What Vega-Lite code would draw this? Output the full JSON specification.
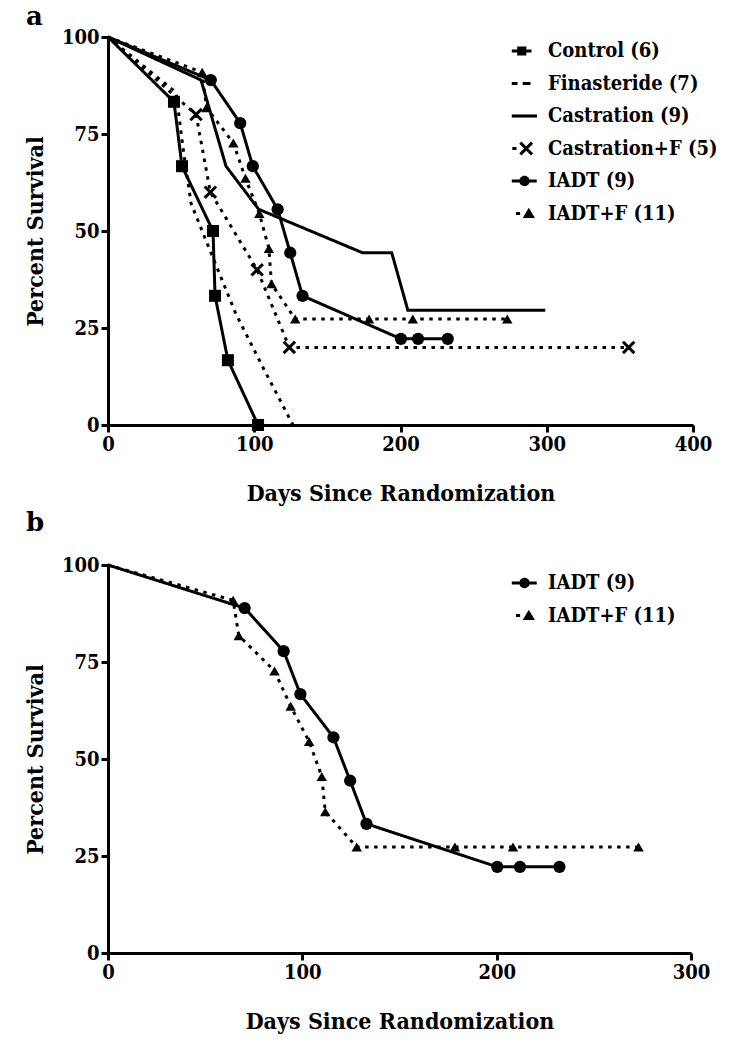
{
  "$schema": "https://vega.github.io/schema/vega-lite/v6.json",
  "background": "white",
  "padding": {"left": 24, "top": 4, "right": 5, "bottom": 5},
  "spacing": 5,
  "resolve": {"scale": {"shape": "independent", "strokeDash": "independent"}, "legend": {"shape": "independent", "strokeDash": "independent"}},
  "config": {
    "view": {"stroke": null},
    "axis": {
      "grid": false,
      "domainColor": "black", "domainWidth": 3,
      "tickColor": "black", "tickWidth": 3, "tickSize": 7,
      "labelFont": "DejaVu Serif Condensed", "labelFontSize": 20, "labelFontWeight": "bold", "labelColor": "black",
      "labelPadding": 2, "labelFlush": false, "labelOverlap": false,
      "titleFont": "DejaVu Serif Condensed", "titleFontSize": 23, "titleFontWeight": "bold", "titleColor": "black"
    },
    "legend": {
      "labelFont": "DejaVu Serif Condensed", "labelFontSize": 20, "labelFontWeight": "bold", "labelColor": "black",
      "labelLimit": 300, "labelOffset": 11, "symbolSize": 676, "rowPadding": 9.5,
      "symbolFillColor": "black", "symbolStrokeColor": "black", "symbolStrokeWidth": 0, "symbolOpacity": 1
    },
    "title": {"font": "DejaVu Serif", "fontSize": 26, "fontWeight": "bold", "color": "black", "anchor": "start", "frame": "group"}
  },
  "datasets": {
    "km": [
      {"group": "Control (6)", "day": 0, "pct": 100},
      {"group": "Control (6)", "day": 45.1, "pct": 83.3},
      {"group": "Control (6)", "day": 50.6, "pct": 66.7},
      {"group": "Control (6)", "day": 71.8, "pct": 50},
      {"group": "Control (6)", "day": 73.2, "pct": 33.3},
      {"group": "Control (6)", "day": 82, "pct": 16.7},
      {"group": "Control (6)", "day": 102.6, "pct": 0},
      {"group": "Finasteride (7)", "day": 0, "pct": 100},
      {"group": "Finasteride (7)", "day": 46.5, "pct": 85.7},
      {"group": "Finasteride (7)", "day": 51.3, "pct": 71.4},
      {"group": "Finasteride (7)", "day": 56.8, "pct": 57.1},
      {"group": "Finasteride (7)", "day": 72, "pct": 42.9},
      {"group": "Finasteride (7)", "day": 87.5, "pct": 28.6},
      {"group": "Finasteride (7)", "day": 106.7, "pct": 14.3},
      {"group": "Finasteride (7)", "day": 126.5, "pct": 0},
      {"group": "Castration (9)", "day": 0, "pct": 100},
      {"group": "Castration (9)", "day": 63.6, "pct": 88.9},
      {"group": "Castration (9)", "day": 80.7, "pct": 66.7},
      {"group": "Castration (9)", "day": 103, "pct": 55.6},
      {"group": "Castration (9)", "day": 174, "pct": 44.4},
      {"group": "Castration (9)", "day": 194, "pct": 44.4},
      {"group": "Castration (9)", "day": 205, "pct": 29.6},
      {"group": "Castration (9)", "day": 299, "pct": 29.6},
      {"group": "Castration+F (5)", "day": 0, "pct": 100},
      {"group": "Castration+F (5)", "day": 60.2, "pct": 80},
      {"group": "Castration+F (5)", "day": 70, "pct": 60},
      {"group": "Castration+F (5)", "day": 102, "pct": 40},
      {"group": "Castration+F (5)", "day": 124, "pct": 20},
      {"group": "Castration+F (5)", "day": 356, "pct": 20},
      {"group": "IADT (9)", "day": 0, "pct": 100},
      {"group": "IADT (9)", "day": 70.3, "pct": 88.9},
      {"group": "IADT (9)", "day": 90.4, "pct": 77.8},
      {"group": "IADT (9)", "day": 99, "pct": 66.7},
      {"group": "IADT (9)", "day": 116, "pct": 55.6},
      {"group": "IADT (9)", "day": 124.6, "pct": 44.4},
      {"group": "IADT (9)", "day": 133, "pct": 33.3},
      {"group": "IADT (9)", "day": 200.3, "pct": 22.2},
      {"group": "IADT (9)", "day": 212, "pct": 22.2},
      {"group": "IADT (9)", "day": 232.3, "pct": 22.2},
      {"group": "IADT+F (11)", "day": 0, "pct": 100},
      {"group": "IADT+F (11)", "day": 64.4, "pct": 90.9},
      {"group": "IADT+F (11)", "day": 67.3, "pct": 81.8},
      {"group": "IADT+F (11)", "day": 85.7, "pct": 72.7},
      {"group": "IADT+F (11)", "day": 94, "pct": 63.6},
      {"group": "IADT+F (11)", "day": 103.5, "pct": 54.5},
      {"group": "IADT+F (11)", "day": 110, "pct": 45.5},
      {"group": "IADT+F (11)", "day": 111.8, "pct": 36.4},
      {"group": "IADT+F (11)", "day": 128, "pct": 27.3},
      {"group": "IADT+F (11)", "day": 178.5, "pct": 27.3},
      {"group": "IADT+F (11)", "day": 208.4, "pct": 27.3},
      {"group": "IADT+F (11)", "day": 273, "pct": 27.3}
    ]
  },
  "vconcat": [
    {
      "title": {"text": "a", "dx": -82, "offset": -3},
      "width": 585,
      "height": 388,
      "data": {"name": "km"},
      "encoding": {
        "x": {"field": "day", "type": "quantitative", "scale": {"domain": [0, 400], "nice": false}, "axis": {"values": [0, 100, 200, 300, 400], "title": "Days Since Randomization", "titlePadding": 28}},
        "y": {"field": "pct", "type": "quantitative", "scale": {"domain": [0, 100], "nice": false}, "axis": {"values": [0, 25, 50, 75, 100], "title": "Percent Survival", "titlePadding": 14}}
      },
      "layer": [
        {
          "mark": {"type": "line", "color": "black", "strokeWidth": 3, "strokeCap": "butt"},
          "encoding": {
            "strokeDash": {
              "field": "group", "type": "nominal",
              "scale": {
                "domain": ["Finasteride (7)", "Castration+F (5)", "IADT+F (11)", "Control (6)", "Castration (9)", "IADT (9)"],
                "range": [[3.5, 5.5], [3.5, 5.5], [3.5, 5.5], [1, 0], [1, 0], [1, 0]]
              },
              "legend": null
            }
          }
        },
        {
          "transform": [{"filter": "datum.day > 0 && datum.group == 'Control (6)'"}],
          "mark": {"type": "point", "shape": "square", "filled": true, "color": "black", "opacity": 1, "size": 144}
        },
        {
          "transform": [{"filter": "datum.day > 0 && datum.group == 'IADT (9)'"}],
          "mark": {"type": "point", "shape": "circle", "filled": true, "color": "black", "opacity": 1, "size": 150}
        },
        {
          "transform": [{"filter": "datum.day > 0 && datum.group == 'IADT+F (11)'"}],
          "mark": {"type": "point", "shape": "triangle-up", "filled": true, "color": "black", "opacity": 1, "size": 110}
        },
        {
          "transform": [{"filter": "datum.day > 0 && datum.group == 'Castration+F (5)'"}],
          "mark": {"type": "point", "shape": "M-1,-1L1,1M-1,1L1,-1", "filled": false, "stroke": "black", "strokeWidth": 3, "size": 130, "opacity": 1}
        },
        {
          "transform": [{"filter": "false"}],
          "mark": {"type": "point", "filled": true, "color": "black", "opacity": 1},
          "encoding": {
            "shape": {
              "field": "group", "type": "nominal",
              "scale": {
                "domain": ["Control (6)", "Finasteride (7)", "Castration (9)", "Castration+F (5)", "IADT (9)", "IADT+F (11)"],
                "range": [
                  "M-0.94,-0.12H0.58V0.12H-0.94ZM-0.52,-0.35H0.18V0.35H-0.52Z",
                  "M-0.94,-0.12H-0.5V0.12H-0.94ZM-0.1,-0.12H0.5V0.12H-0.1Z",
                  "M-0.94,-0.12H1V0.12H-0.94Z",
                  "M-0.9,-0.12H-0.58V0.12H-0.9ZM-0.2,-0.53L0.7,0.37L0.54,0.53L-0.36,-0.37ZM-0.2,0.53L-0.36,0.37L0.54,-0.53L0.7,-0.37Z",
                  "M-0.94,-0.12H0.98V0.12H-0.94ZM0.44,0A0.4,0.4 0 1,1 -0.36,0A0.4,0.4 0 1,1 0.44,0Z",
                  "M-0.62,-0.12H-0.3V0.12H-0.62ZM0.37,-0.45L0.84,0.35L-0.1,0.35Z"
                ]
              },
              "legend": {"title": null, "orient": "none", "legendX": 403, "legendY": 1}
            }
          }
        }
      ]
    },
    {
      "title": {"text": "b", "dx": -82, "offset": 19},
      "width": 583,
      "height": 388,
      "data": {"name": "km"},
      "transform": [{"filter": "datum.group == 'IADT (9)' || datum.group == 'IADT+F (11)'"}],
      "encoding": {
        "x": {"field": "day", "type": "quantitative", "scale": {"domain": [0, 300], "nice": false}, "axis": {"values": [0, 100, 200, 300], "title": "Days Since Randomization", "titlePadding": 28}},
        "y": {"field": "pct", "type": "quantitative", "scale": {"domain": [0, 100], "nice": false}, "axis": {"values": [0, 25, 50, 75, 100], "title": "Percent Survival", "titlePadding": 14}}
      },
      "layer": [
        {
          "mark": {"type": "line", "color": "black", "strokeWidth": 3, "strokeCap": "butt"},
          "encoding": {
            "strokeDash": {
              "field": "group", "type": "nominal",
              "scale": {"domain": ["IADT+F (11)", "IADT (9)"], "range": [[3.5, 5.5], [1, 0]]},
              "legend": null
            }
          }
        },
        {
          "transform": [{"filter": "datum.day > 0 && datum.group == 'IADT (9)'"}],
          "mark": {"type": "point", "shape": "circle", "filled": true, "color": "black", "opacity": 1, "size": 150}
        },
        {
          "transform": [{"filter": "datum.day > 0 && datum.group == 'IADT+F (11)'"}],
          "mark": {"type": "point", "shape": "triangle-up", "filled": true, "color": "black", "opacity": 1, "size": 110}
        },
        {
          "transform": [{"filter": "false"}],
          "mark": {"type": "point", "filled": true, "color": "black", "opacity": 1},
          "encoding": {
            "shape": {
              "field": "group", "type": "nominal",
              "scale": {
                "domain": ["IADT (9)", "IADT+F (11)"],
                "range": [
                  "M-0.94,-0.12H0.98V0.12H-0.94ZM0.44,0A0.4,0.4 0 1,1 -0.36,0A0.4,0.4 0 1,1 0.44,0Z",
                  "M-0.62,-0.12H-0.3V0.12H-0.62ZM0.37,-0.45L0.84,0.35L-0.1,0.35Z"
                ]
              },
              "legend": {"title": null, "orient": "none", "legendX": 403, "legendY": 5}
            }
          }
        }
      ]
    }
  ]
}
